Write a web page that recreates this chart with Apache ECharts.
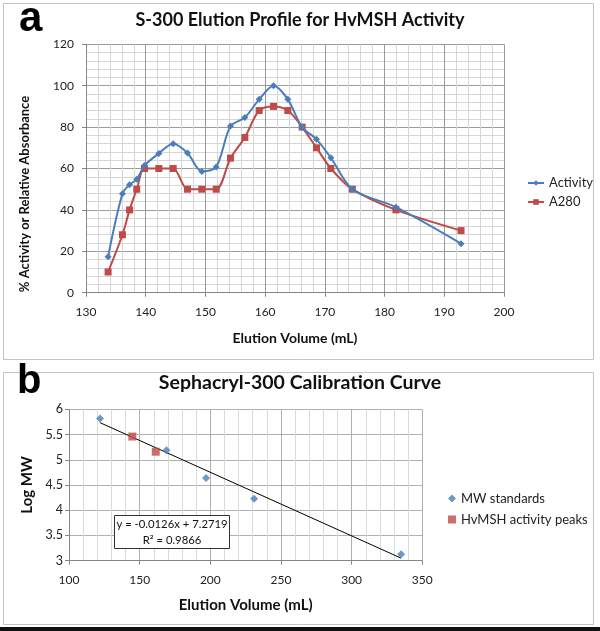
<!DOCTYPE html>
<html><head><meta charset="utf-8">
<script src="https://cdn.jsdelivr.net/npm/echarts/dist/echarts.min.js"></script>
<style>html,body{margin:0;padding:0;background:#fff}#c{width:600px;height:631px}</style>
</head><body><div id="c"></div>
<script>
// Panel a: S-300 elution profile
const elutionVol = [133.7,136.1,137.3,138.5,139.8,142.2,144.6,147.0,149.4,151.8,154.2,156.6,159.0,161.4,163.8,166.2,168.6,171.0,174.6,181.9,192.8];
const activity   = [17.4,47.8,52.2,54.8,61.4,67.3,72.0,67.5,58.6,60.7,80.5,84.6,93.4,100,93.4,79.9,74.1,65.2,50,41.3,23.7];
const a280       = [10,28,40,50,60,60,60,50,50,50,65,75,88,90,88,80,70,60,50,40,30];
// Panel b: calibration curve
const stdVol    = [122,169,197,231,335];
const stdLogMW  = [5.82,5.19,4.64,4.23,3.13];
const peakVol   = [144.8,161.4];
const peakLogMW = [5.46,5.16];
const trendVol  = [122,335];
const trendLogMW= [5.735,3.051];
const eqLine1 = 'y = -0.0126x + 7.2719';
const eqLine2 = 'R\u00b2 = 0.9866';

const zip = (a,b)=>a.map((v,i)=>[v,b[i]]);
const FF = 'Lato, "Open Sans", sans-serif';
const BLUE = '#4A7EBB', RED = '#BE4B48';
const lbl = {color:'#222', fontFamily:FF, fontSize:12};

const chart = echarts.init(document.getElementById('c'), null, {renderer:'canvas'});
chart.setOption({
  animation:false,
  backgroundColor:'#fff',
  title:[
    {text:'S-300 Elution Profile for HvMSH Activity', left:'center', top:11, padding:0,
     textStyle:{fontFamily:FF, fontWeight:'bold', fontSize:18, color:'#111'}},
    {text:'Sephacryl-300 Calibration Curve', left:'center', top:373, padding:0,
     textStyle:{fontFamily:FF, fontWeight:'bold', fontSize:19.5, color:'#111'}}
  ],
  legend:[
    {data:['Activity','A280'], orient:'vertical', left:527, top:176.5, padding:0,
     itemWidth:16, itemHeight:7, itemGap:6,
     textStyle:{fontFamily:FF, fontSize:13, color:'#222'}},
    {data:['MW standards','HvMSH activity peaks'], orient:'vertical', left:448, top:492, padding:0,
     itemWidth:8, itemHeight:8, itemGap:8,
     textStyle:{fontFamily:FF, fontSize:13, color:'#222'}}
  ],
  grid:[
    {left:86, top:44.3, width:418, height:248.4, outerBoundsMode:'none'},
    {left:69, top:409.3, width:353.3, height:151.4, outerBoundsMode:'none'}
  ],
  xAxis:[
    {gridIndex:0, type:'value', min:130, max:200, interval:10,
     name:'Elution Volume (mL)', nameLocation:'middle', nameGap:39,
     nameTextStyle:{fontFamily:FF, fontWeight:'bold', fontSize:14, color:'#111'},
     axisLine:{lineStyle:{color:'#868686'}}, axisTick:{show:true, length:4, lineStyle:{color:'#868686'}},
     axisLabel:Object.assign({margin:13}, lbl),
     splitLine:{show:true, lineStyle:{color:'#9a9a9a', width:1}},
     minorTick:{show:false, splitNumber:5},
     minorSplitLine:{show:true, lineStyle:{color:'#d6d6d6', width:1}}},
    {gridIndex:1, type:'value', min:100, max:350, interval:50,
     name:'Elution Volume (mL)', nameLocation:'middle', nameGap:37,
     nameTextStyle:{fontFamily:FF, fontWeight:'bold', fontSize:15, color:'#111'},
     axisLine:{lineStyle:{color:'#868686'}}, axisTick:{show:true, length:4, lineStyle:{color:'#868686'}},
     axisLabel:Object.assign({margin:13}, lbl),
     splitLine:{show:true, lineStyle:{color:'#b0b0b0', width:1}},
     minorTick:{show:false, splitNumber:5},
     minorSplitLine:{show:true, lineStyle:{color:'#dadada', width:1}}}
  ],
  yAxis:[
    {gridIndex:0, type:'value', min:0, max:120, interval:20,
     axisLine:{show:true, lineStyle:{color:'#868686'}}, axisTick:{show:true, length:4, lineStyle:{color:'#868686'}},
     axisLabel:Object.assign({margin:12}, lbl),
     splitLine:{show:true, lineStyle:{color:'#9a9a9a', width:1}},
     minorTick:{show:false, splitNumber:5},
     minorSplitLine:{show:true, lineStyle:{color:'#d6d6d6', width:1}}},
    {gridIndex:1, type:'value', min:3, max:6, interval:0.5,
     name:'Log MW', nameLocation:'middle', nameGap:33, nameRotate:90,
     nameTextStyle:{fontFamily:FF, fontWeight:'bold', fontSize:15, color:'#111'},
     axisLine:{show:true, lineStyle:{color:'#868686'}}, axisTick:{show:true, length:4, lineStyle:{color:'#868686'}},
     axisLabel:Object.assign({margin:6}, lbl, {fontSize:12.5}),
     splitLine:{show:true, lineStyle:{color:'#b0b0b0', width:1}}}
  ],
  series:[
    {name:'Activity', type:'line', xAxisIndex:0, yAxisIndex:0, data:zip(elutionVol, activity),
     smooth:0.3, symbol:'diamond', symbolSize:7, itemStyle:{color:BLUE}, lineStyle:{color:BLUE, width:2}, z:4},
    {name:'A280', type:'line', xAxisIndex:0, yAxisIndex:0, data:zip(elutionVol, a280),
     smooth:0.3, symbol:'rect', symbolSize:7, itemStyle:{color:RED}, lineStyle:{color:RED, width:2}, z:3},
    {name:'trend', type:'line', xAxisIndex:1, yAxisIndex:1, data:zip(trendVol, trendLogMW),
     symbol:'none', silent:true, lineStyle:{color:'#000', width:1}, itemStyle:{color:'#000'}, z:2},
    {name:'MW standards', type:'scatter', xAxisIndex:1, yAxisIndex:1, data:zip(stdVol, stdLogMW),
     symbol:'diamond', symbolSize:8, itemStyle:{color:BLUE}, z:4},
    {name:'HvMSH activity peaks', type:'scatter', xAxisIndex:1, yAxisIndex:1, data:zip(peakVol, peakLogMW),
     symbol:'rect', symbolSize:8, itemStyle:{color:RED}, z:3}
  ],
  graphic:[
    {type:'rect', shape:{x:3.5, y:3.5, width:590, height:356}, style:{fill:null, stroke:'#c4c4c4', lineWidth:1}, z:-1},
    {type:'rect', shape:{x:3.5, y:372.5, width:590, height:252}, style:{fill:null, stroke:'#c4c4c4', lineWidth:1}, z:-1},
    {type:'rect', shape:{x:0, y:627, width:600, height:4}, style:{fill:'#111'}, z:-1},
    {type:'text', left:19, top:-2, style:{text:'a', font:'bold 42px "Liberation Sans", Arial, sans-serif', fill:'#000'}, z:50},
    {type:'text', left:17, top:362, style:{text:'b', font:'bold 40px "Liberation Sans", Arial, sans-serif', fill:'#000'}, z:50},
    {type:'text', x:25, y:194, rotation:Math.PI/2,
     style:{text:'% Activity or Relative Absorbance', font:'bold 13px ' + FF, fill:'#111', textAlign:'center', textVerticalAlign:'middle'}, z:50},
    {type:'group', z:100, children:[
      {type:'rect', shape:{x:114.5, y:515.5, width:115, height:33}, style:{fill:'#fff', stroke:'#333', lineWidth:1}, z:100},
      {type:'text', x:172, y:524.5, style:{text:eqLine1, font:'11.3px ' + FF, fill:'#111', textAlign:'center', textVerticalAlign:'middle'}, z:101},
      {type:'text', x:172, y:540, style:{text:eqLine2, font:'11.3px ' + FF, fill:'#111', textAlign:'center', textVerticalAlign:'middle'}, z:101}
    ]}
  ]
});
</script></body></html>
